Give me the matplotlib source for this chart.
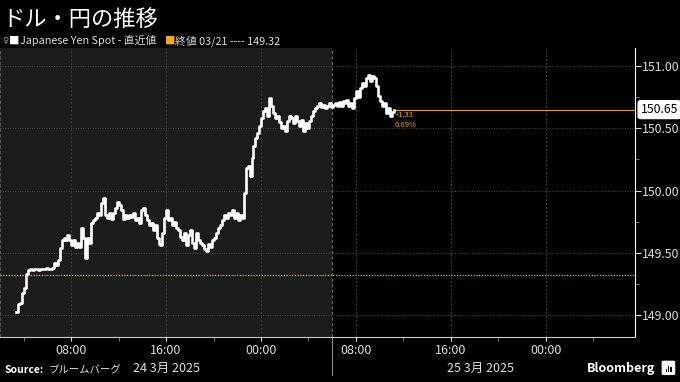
import matplotlib
matplotlib.use("Agg")
import matplotlib.pyplot as plt
import matplotlib.dates as mdates
import matplotlib.transforms as mtransforms
from matplotlib.patches import FancyBboxPatch, Rectangle
import pandas as pd

plt.rcParams['font.family'] = ['Noto Sans CJK JP', 'DejaVu Sans']

# USD/JPY spot, 10-minute bars
start_time = '2025-03-24 03:22'
usd_jpy = [
    149.02, 149.09, 149.10, 149.18, 149.22, 149.33, 149.36, 149.37, 149.36, 149.37,
    149.37, 149.36, 149.37, 149.37, 149.37, 149.38, 149.37, 149.37, 149.38, 149.42,
    149.40, 149.44, 149.54, 149.60, 149.62, 149.60, 149.64, 149.60, 149.56, 149.60,
    149.55, 149.58, 149.55, 149.70, 149.62, 149.46, 149.62, 149.58, 149.74, 149.76,
    149.78, 149.82, 149.80, 149.90, 149.94, 149.80, 149.78, 149.82, 149.77, 149.82,
    149.86, 149.91, 149.88, 149.84, 149.77, 149.80, 149.78, 149.80, 149.79, 149.82,
    149.76, 149.78, 149.74, 149.84, 149.86, 149.80, 149.76, 149.72, 149.74, 149.68,
    149.72, 149.62, 149.57, 149.56, 149.66, 149.78, 149.84, 149.76, 149.78, 149.72,
    149.75, 149.70, 149.68, 149.63, 149.60, 149.66, 149.56, 149.64, 149.68, 149.58,
    149.54, 149.66, 149.60, 149.58, 149.56, 149.53, 149.51, 149.57, 149.55, 149.60,
    149.62, 149.66, 149.70, 149.72, 149.76, 149.80, 149.78, 149.82, 149.80, 149.84,
    149.78, 149.82, 149.76, 149.80, 149.78, 149.98, 150.18, 150.20, 150.12, 150.26,
    150.36, 150.42, 150.46, 150.52, 150.58, 150.64, 150.66, 150.60, 150.74, 150.68,
    150.62, 150.58, 150.60, 150.55, 150.50, 150.52, 150.48, 150.56, 150.60, 150.58,
    150.54, 150.60, 150.56, 150.52, 150.57, 150.48, 150.54, 150.50, 150.56, 150.60,
    150.64, 150.66, 150.68, 150.70, 150.67, 150.69, 150.66, 150.68, 150.70, 150.67,
    150.69, 150.70, 150.68, 150.71, 150.68, 150.72, 150.70, 150.73, 150.68, 150.70,
    150.66, 150.74, 150.80, 150.75, 150.82, 150.86, 150.84, 150.90, 150.93, 150.88,
    150.92, 150.90, 150.84, 150.76, 150.72, 150.68, 150.70, 150.62, 150.66, 150.60,
    150.63, 150.65,
]
prev_close = 149.32
last_price = 150.65
change_abs = '+1.33'
change_pct = '0.89%'
y_ticks = [149.00, 149.50, 150.00, 150.50, 151.00]
day_labels = ['24 3月 2025', '25 3月 2025']
day_label_pos = ['2025-03-24 16:00', '2025-03-25 18:30']
session_split = '2025-03-25 06:00'

ORANGE = '#f5a623'
GRID = '#4a4a4a'
TXT = '#dddddd'

times = pd.date_range(start_time, periods=len(usd_jpy), freq='10min')

fig = plt.figure(figsize=(6.8, 3.82), dpi=100, facecolor='black')
ax = fig.add_axes([0, 45 / 382, 635 / 680, 289 / 382])
ax.set_facecolor('black')

x0 = pd.Timestamp('2025-03-24 02:01')
x1 = pd.Timestamp('2025-03-26 07:30')
split = pd.Timestamp(session_split)
ax.axvspan(x0, split, color='#1b1b1b', lw=0, zorder=0)

ax.set_xlim(x0, x1)
ax.set_ylim(148.823, 151.145)

# grid
for yv in y_ticks:
    ax.axhline(yv, color=GRID, lw=0.7, ls=(0, (1, 1.5)), zorder=1)
ax.xaxis.set_major_locator(mdates.HourLocator(byhour=[0, 8, 16]))
ax.xaxis.set_minor_locator(mdates.HourLocator(byhour=[4, 12, 20]))
ax.xaxis.set_major_formatter(mdates.DateFormatter('%H:%M'))
ax.grid(axis='x', which='major', color='#3a3a3a', lw=0.8, ls=(0, (2, 1.5)))
ax.set_axisbelow(True)
ax.axvline(split, color='#666666', lw=0.8, ls=(0, (3, 2)), zorder=1)
ax.axvline(x0, color='#555555', lw=0.8, ls=(0, (3, 2)), zorder=1)

# previous close
ax.axhline(prev_close, color=ORANGE, lw=0.9, ls=(0, (1, 1.2)), zorder=2)

# price
ax.plot(times, usd_jpy, color='white', lw=1.9, drawstyle='steps-post', zorder=4)
ax.plot([times[-1], x1], [last_price, last_price], color=ORANGE, lw=0.7, zorder=3)
ax.text(times[-1] + pd.Timedelta(minutes=3), last_price - 0.015, change_abs,
        color=ORANGE, fontsize=5.5, va='top', ha='left')
ax.text(times[-1] + pd.Timedelta(minutes=3), last_price - 0.09, change_pct,
        color=ORANGE, fontsize=5.5, va='top', ha='left')

# axes styling
for s in ['top', 'left']:
    ax.spines[s].set_visible(False)
ax.spines['right'].set_color('white')
ax.spines['bottom'].set_color('#cccccc')
ax.yaxis.tick_right()
ax.set_yticks(y_ticks)
ax.set_yticklabels([f'{v:.2f}' for v in y_ticks])
ax.set_yticks([149.25, 149.75, 150.25, 150.75], minor=True)
ax.tick_params(axis='y', which='major', colors=TXT, labelsize=8.8, length=4, pad=1)
ax.tick_params(axis='y', which='minor', colors='#888888', length=3)
ax.tick_params(axis='x', which='major', colors=TXT, labelsize=9, length=3, pad=2)
ax.tick_params(axis='x', which='minor', colors='#888888', length=3)

# last price tag
ax.annotate(f'{last_price:.2f}', xy=(1.0, last_price), xycoords=('axes fraction', 'data'),
            xytext=(4, 0), textcoords='offset points', ha='left', va='center',
            fontsize=8.8, color='black', annotation_clip=False,
            bbox=dict(boxstyle='round,pad=0.2', fc='white', ec='white'))

# day labels and separator below axis
trans = mtransforms.blended_transform_factory(ax.transData, ax.transAxes)
for lbl, pos in zip(day_labels, day_label_pos):
    ax.text(pd.Timestamp(pos), -0.11, lbl, transform=trans, ha='center', va='center',
            fontsize=9, color=TXT)
ax.plot([split, split], [0, -0.13], transform=trans, color='#888888', lw=0.8, clip_on=False)

# header
fig.text(0.003, 0.95, 'ドル・円の推移', color='white', fontsize=16, va='center', ha='left')
fig.text(0.003, 0.893, '♀', color='#aaaaaa', fontsize=6, va='center', ha='left',
         family='DejaVu Sans')
fig.text(0.013, 0.893, '■', color='white', fontsize=7.5, va='center', ha='left')
fig.text(0.029, 0.893, 'Japanese Yen Spot - 直近値', color=TXT, fontsize=7.8, va='center', ha='left')
fig.text(0.242, 0.893, '■', color=ORANGE, fontsize=7.5, va='center', ha='left')
fig.text(0.258, 0.893, f'終値 03/21 ---- {prev_close:.2f}', color=TXT, fontsize=7.8,
         va='center', ha='left')

# footer
fig.text(0.006, 0.018, 'Source:', color='white', fontsize=7.5, fontweight='bold', va='bottom')
fig.text(0.071, 0.018, 'ブルームバーグ', color=TXT, fontsize=7.5, va='bottom')
fig.text(0.964, 0.018, 'Bloomberg', color='white', fontsize=9, fontweight='bold',
         va='bottom', ha='right')
fig.patches.append(FancyBboxPatch((0.976, 0.022), 0.014, 0.03, boxstyle='round,pad=0.002',
                                  transform=fig.transFigure, fc='white', ec='white'))
for bx, bh in [(0.979, 0.008), (0.9825, 0.014), (0.986, 0.011)]:
    fig.patches.append(Rectangle((bx, 0.027), 0.002, bh, transform=fig.transFigure,
                                 fc='black', ec='none'))

fig.savefig('out.png', dpi=100, facecolor='black')
